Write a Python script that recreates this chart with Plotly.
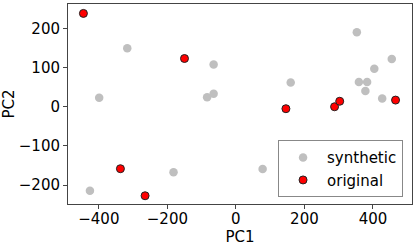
import plotly.graph_objects as go

syn_x = [-317, -399, -426, -182, -65, -84, -65, 78, 160, 353, 359, 383, 378, 404, 427, 455]
syn_y = [149, 23, -214, -167, 108, 24, 33, -159, 62, 190, 63, 63, 40, 97, 21, 122]
orig_x = [-445, -150, -337, -265, 146, 288, 303, 466]
orig_y = [238, 123, -158, -227, -5, 0, 14, 17]
x_ticks = [-400, -200, 0, 200, 400]
y_ticks = [-200, -100, 0, 100, 200]

def lab(v):
    return str(v).replace("-", "\u2212")

fig = go.Figure()
fig.add_trace(go.Scatter(x=syn_x, y=syn_y, mode="markers", name="synthetic",
                         marker=dict(color="#bfbfbf", size=8.5, line=dict(width=0))))
fig.add_trace(go.Scatter(x=orig_x, y=orig_y, mode="markers", name="original",
                         marker=dict(color="#ff0000", size=8, line=dict(color="#222222", width=1))))

axis_common = dict(showgrid=False, zeroline=False, showline=True, linecolor="#444444", linewidth=1,
                   mirror=True, ticks="outside", ticklen=4, tickcolor="#444444",
                   tickfont=dict(size=15, color="black"))
fig.update_layout(
    width=416, height=246,
    margin=dict(l=68, r=4, t=4, b=42),
    paper_bgcolor="white", plot_bgcolor="white",
    font=dict(family="DejaVu Sans", size=15, color="black"),
    xaxis=dict(range=[-490, 514], tickvals=x_ticks, ticktext=[lab(v) for v in x_ticks],
               ticklabelstandoff=-3,
               title=dict(text="PC1", font=dict(size=15), standoff=2), **axis_common),
    yaxis=dict(range=[-248, 262], tickvals=y_ticks, ticktext=[lab(v) for v in y_ticks],
               title=dict(text="PC2", font=dict(size=15), standoff=4), **axis_common),
    legend=dict(x=0.974, y=0.034, xanchor="right", yanchor="bottom",
                bordercolor="#888888", borderwidth=1, bgcolor="rgba(255,255,255,0.8)",
                font=dict(size=15), tracegroupgap=0, itemwidth=38),
    showlegend=True,
)
fig.write_html("out.html", config={"displayModeBar": False},
               post_script="document.body.style.margin='0px';")
